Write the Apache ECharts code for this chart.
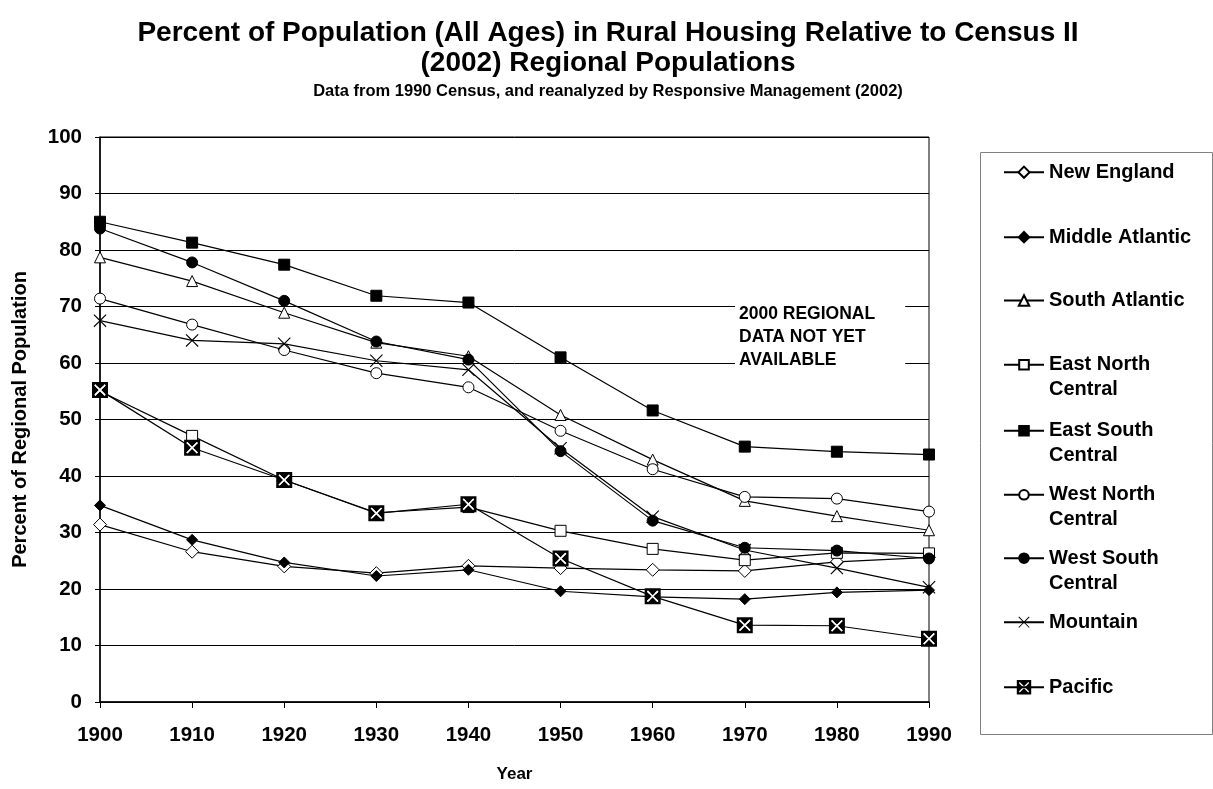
<!DOCTYPE html>
<html><head><meta charset="utf-8">
<script src="https://cdn.jsdelivr.net/npm/echarts@6/dist/echarts.min.js"></script>
<style>html,body{margin:0;padding:0;background:#fff}#c{width:1213px;height:789px}</style>
</head><body><div id="c"></div>
<script>
const years = ['1900','1910','1920','1930','1940','1950','1960','1970','1980','1990'];
const yTicks = [0,10,20,30,40,50,60,70,80,90,100];
const newEngland        = [31.4, 26.6, 24.0, 22.8, 24.1, 23.7, 23.4, 23.2, 24.8, 25.6];
const middleAtlantic    = [34.8, 28.7, 24.7, 22.3, 23.4, 19.6, 18.6, 18.2, 19.4, 19.8];
const southAtlantic     = [78.7, 74.5, 68.9, 63.6, 61.2, 50.8, 42.9, 35.6, 32.9, 30.4];
const eastNorthCentral  = [55.0, 47.1, 39.3, 33.5, 34.5, 30.3, 27.1, 25.1, 26.4, 26.3];
const eastSouthCentral  = [85.0, 81.3, 77.4, 71.9, 70.7, 61.0, 51.6, 45.2, 44.3, 43.8];
const westNorthCentral  = [71.4, 66.8, 62.3, 58.2, 55.7, 48.0, 41.2, 36.3, 36.0, 33.7];
const westSouthCentral  = [83.8, 77.8, 71.0, 63.8, 60.6, 44.4, 32.1, 27.3, 26.8, 25.4];
const mountain          = [67.5, 64.0, 63.4, 60.4, 58.8, 44.9, 32.8, 26.9, 23.7, 20.3];
const pacific           = [55.2, 45.0, 39.3, 33.4, 35.0, 25.4, 18.7, 13.6, 13.5, 11.2];
const seriesNames = ['New England','Middle Atlantic','South Atlantic','East North Central','East South Central','West North Central','West South Central','Mountain','Pacific'];
const seriesData = [newEngland, middleAtlantic, southAtlantic, eastNorthCentral, eastSouthCentral, westNorthCentral, westSouthCentral, mountain, pacific];

const FONT = "'Liberation Sans', Arial, sans-serif";
const X_PATH = 'path://M0,6 L6,0 L50,44 L94,0 L100,6 L56,50 L100,94 L94,100 L50,56 L6,100 L0,94 L44,50 Z';
const X_WHITE = 'path://M0,9 L9,0 L50,41 L91,0 L100,9 L59,50 L100,91 L91,100 L50,59 L9,100 L0,91 L41,50 Z';
const PAC_PATH = 'path://M0,0 L100,0 L100,100 L0,100 Z M43.5,50 L14,79.5 L20.5,86 L50,56.5 L79.5,86 L86,79.5 L56.5,50 L86,20.5 L79.5,14 L50,43.5 L20.5,14 L14,20.5 Z';

const markers = [
  {symbol:'diamond', size:13, fill:'#fff', lh:14},
  {symbol:'diamond', size:11, fill:'#000', lh:13},
  {symbol:'triangle', size:11, fill:'#fff', lh:13},
  {symbol:'rect', size:11, fill:'#fff', lh:12},
  {symbol:'rect', size:11, fill:'#000', lh:12},
  {symbol:'circle', size:11, fill:'#fff', lh:12},
  {symbol:'circle', size:11, fill:'#000', lh:12},
  {symbol:X_PATH, size:13, fill:'#000', lh:14, noBorder:true},
  {symbol:PAC_PATH, size:16, fill:'#000', lh:18, noBorder:true}
];
const legendCenters = [171.7, 236.7, 300, 363.3, 429.3, 493.3, 556.7, 621.7, 686.7];
const twoLine = {'East North Central':' \nEast North\nCentral','East South Central':' \nEast South\nCentral','West North Central':' \nWest North\nCentral','West South Central':' \nWest South\nCentral'};

const series = seriesNames.map((n,i)=>({
  name:n, type:'line', data:seriesData[i],
  symbol:markers[i].symbol, symbolSize:markers[i].size, showAllSymbol:true,
  lineStyle:{color:'#000', width:1.2},
  itemStyle:{color:markers[i].fill, borderColor:'#000', borderWidth:markers[i].noBorder?0:1},
  emphasis:{disabled:true}, silent:true
}));
series.push({
  name:'Pacific marker', type:'line', data:pacific,
  symbol:X_WHITE, symbolSize:11.5, showAllSymbol:true,
  lineStyle:{width:0, opacity:0},
  itemStyle:{color:'#fff', borderWidth:0},
  emphasis:{disabled:true}, silent:true
});

const legends = seriesNames.map((n,i)=>({
  data:[n], orient:'vertical', left:1003, top:legendCenters[i] - (twoLine[n] ? 36 : 12),
  padding:0, itemWidth:40, itemHeight:markers[i].lh, selectedMode:false,
  formatter: name => twoLine[name] || name,
  textStyle:{fontFamily:FONT, fontSize:20, fontWeight:'bold', color:'#000', lineHeight:25}
}));

const chart = echarts.init(document.getElementById('c'), null, {renderer:'canvas'});
chart.setOption({
  animation:false,
  backgroundColor:'#fff',
  title:[
    {text:'Percent of Population (All Ages) in Rural Housing Relative to Census II\n(2002) Regional Populations',
     left:603, textAlign:'center', top:13,
     textStyle:{fontFamily:FONT, fontSize:28, fontWeight:'bold', color:'#000', lineHeight:30}},
    {text:'Data from 1990 Census, and reanalyzed by Responsive Management (2002)',
     left:603, textAlign:'center', top:78,
     textStyle:{fontFamily:FONT, fontSize:16.5, fontWeight:'bold', color:'#000'}}
  ],
  grid:{left:100, right:284, top:137, bottom:87, show:true, borderColor:'#000', borderWidth:1},
  xAxis:{type:'category', data:years, boundaryGap:false,
    name:'Year', nameLocation:'middle', nameGap:64,
    nameTextStyle:{fontFamily:FONT, fontSize:17, fontWeight:'bold', color:'#000'},
    axisLine:{lineStyle:{color:'#000', width:1.5}},
    axisTick:{show:true, length:6, alignWithLabel:true, lineStyle:{color:'#000'}},
    axisLabel:{fontFamily:FONT, fontSize:20.5, fontWeight:'bold', color:'#000', margin:23},
    splitLine:{show:false}},
  yAxis:{type:'value', min:yTicks[0], max:yTicks[yTicks.length-1], interval:10,
    name:'Percent of Regional Population', nameLocation:'middle', nameGap:70, nameRotate:90,
    nameTextStyle:{fontFamily:FONT, fontSize:20, fontWeight:'bold', color:'#000'},
    axisLine:{show:true, lineStyle:{color:'#000', width:1.5}},
    axisTick:{show:true, length:5, lineStyle:{color:'#000'}},
    axisLabel:{fontFamily:FONT, fontSize:20.5, fontWeight:'bold', color:'#000', margin:18},
    splitLine:{show:true, lineStyle:{color:'#000', width:1}}},
  legend:legends,
  graphic:[
    {type:'rect', left:978, top:150, shape:{width:232, height:582}, style:{fill:'none', stroke:'#808080', lineWidth:1}, z:0},
    {type:'text', left:735, top:299, z:10,
     style:{text:'2000 REGIONAL\nDATA NOT YET\nAVAILABLE', fontFamily:FONT, fontSize:17.5, fontWeight:'bold', fill:'#000',
       lineHeight:23, backgroundColor:'#fff', padding:[4,30,4,4]}}
  ],
  series:series
});
</script></body></html>
